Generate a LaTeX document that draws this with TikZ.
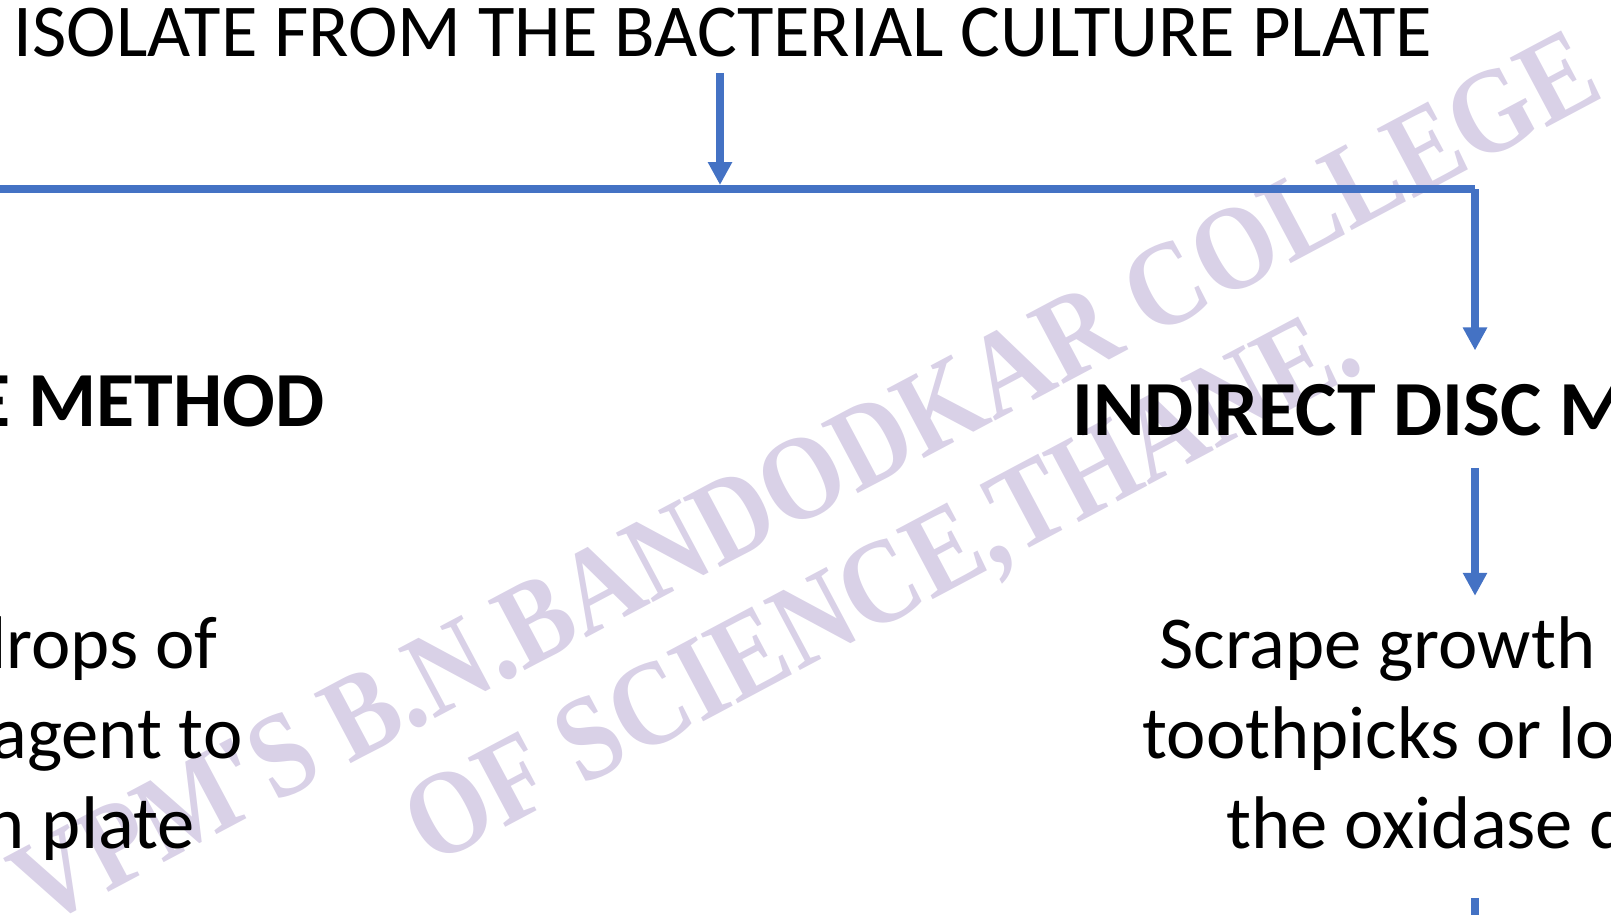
\documentclass[tikz,border=0pt]{standalone}
\usepackage{fontspec}
\setmainfont{Carlito}
\newfontfamily\wmfont[FakeStretch=0.87]{Liberation Serif}
\usetikzlibrary{arrows.meta}

\definecolor{flowblue}{RGB}{68,114,196}
\definecolor{wmlilac}{RGB}{217,209,231}

\tikzset{
  flow/.style={draw=flowblue, line width=3.6pt},
  flowarrow/.style={flow, -{Triangle[width=11.5pt,length=11.5pt]}},
  steptext/.style={inner sep=0pt, font=\fontsize{37.3}{45}\selectfont},
  headtext/.style={inner sep=0pt, font=\fontsize{39}{47}\selectfont\bfseries},
  wmark/.style={inner sep=0pt, text=wmlilac, rotate=28,
    font=\fontsize{60}{72}\selectfont\wmfont\bfseries}
}

\begin{document}
\begin{tikzpicture}[x=0.5pt,y=-0.5pt]
  \useasboundingbox (0,0) rectangle (1611,915);
  \clip (0,0) rectangle (1611,915);
  % watermark behind everything
  \node[wmark] (wmcollege) at (805,478) {VPM'S B.N.BANDODKAR COLLEGE};
  \node[wmark] (wmthane) at (885,591) {OF SCIENCE,THANE.};

  % top of the chart
  \node[steptext, anchor=base] (title) at (723,57) {ISOLATE FROM THE BACTERIAL CULTURE PLATE};
  \coordinate (leftend) at (-10,189);
  \coordinate (split) at (720,189);
  \coordinate (corner) at (1475,189);
  \coordinate (offpage) at (1475,960);
  \draw[flow] (leftend) -- (corner);
  \draw[flowarrow, shorten <=7.5pt, shorten >=2pt] (title.south -| split) -- (split);

  % left branch
  \node[headtext, anchor=base east] (direct) at (325,426) {E METHOD};
  \node[steptext, anchor=base east] (drops) at (218,668) {drops of};
  \node[steptext, anchor=base east] (reagent) at (243,758) {agent to};
  \node[steptext, anchor=base east] (onplate) at (195,848) {n plate};

  % right branch
  \node[headtext, anchor=base west] (indirect) at (1072,435) {INDIRECT DISC ME};
  \node[steptext, anchor=base west] (scrape1) at (1159,668) {Scrape growth};
  \node[steptext, anchor=base west] (scrape2) at (1142,758) {toothpicks or lo};
  \node[steptext, anchor=base west] (scrape3) at (1226,848) {the oxidase d};
  \draw[flowarrow, shorten >=16.5pt] (corner) -- (indirect.north -| corner);
  \draw[flowarrow, shorten <=16pt, shorten >=10pt] (indirect.south -| corner) -- (scrape1.north -| corner);
  \draw[flow, shorten <=24.5pt] (scrape3.south -| corner) -- (offpage);
\end{tikzpicture}
\end{document}
